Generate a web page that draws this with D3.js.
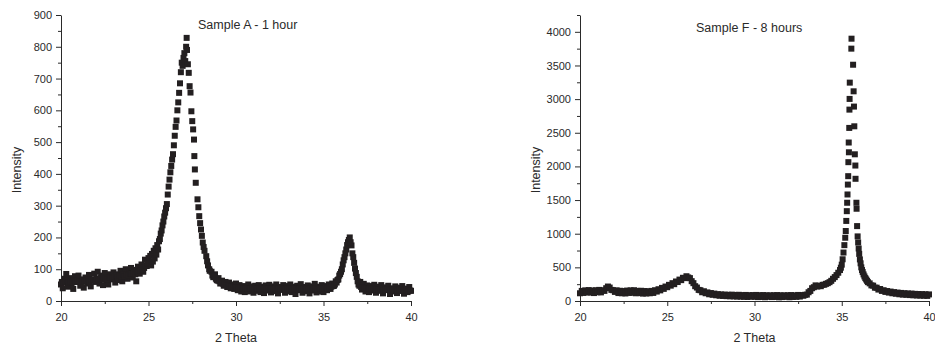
<!DOCTYPE html>
<html>
<head>
<meta charset="utf-8">
<script src="https://cdn.jsdelivr.net/npm/d3@7"></script>
<style>
  body { margin: 0; background: #fff; }
  svg text { font-family: Arial, "Liberation Sans", sans-serif; fill: #2a2a2a; }
</style>
</head>
<body>
<script>
// scan step of the flat parts (deg 2θ)
const step = 0.1;

// Sample A - 1 hour : 20.0 .. 25.0
const aLowStart = 20.0;
const aLow = [
  52, 40, 70, 85, 45, 72, 56, 38, 78, 60,      // 20.x
  80, 48, 68, 42, 74, 55, 82, 46, 66, 86,      // 21.x
  60, 92, 55, 80, 50, 88, 64, 52, 84, 68,      // 22.x
  90, 58, 84, 66, 95, 62, 88, 100, 70, 94,     // 23.x
  104, 74, 98, 62, 108, 86, 115, 92, 130, 110, // 24.x
  135                                          // 25.0
];
// the in-between readings 20.05 .. 24.95
const aLowBStart = 20.05;
const aLowB = [
  60, 58, 62, 64, 57, 61, 59, 63, 60, 65,      // 20.x5
  62, 60, 66, 61, 64, 67, 62, 65, 68, 66,      // 21.x5
  70, 67, 72, 69, 74, 71, 68, 73, 75, 72,      // 22.x5
  76, 79, 74, 80, 77, 82, 78, 84, 81, 86,      // 23.x5
  85, 88, 84, 92, 90, 96, 100, 104, 112, 118   // 24.x5
];
// main peak, read point by point
const aPeak = [
  [25.05, 118], [25.1, 142], [25.15, 112], [25.2, 148], [25.25, 124], [25.3, 158],
  [25.35, 134], [25.4, 166], [25.45, 146], [25.5, 176], [25.55, 162], [25.6, 188],
  [25.65, 195], [25.7, 212], [25.75, 222], [25.8, 238], [25.85, 250], [25.9, 266],
  [25.95, 278], [26.0, 292], [26.05, 305], [26.1, 335], [26.15, 360], [26.2, 382],
  [26.25, 405], [26.3, 425], [26.35, 445], [26.4, 462], [26.45, 490], [26.5, 520],
  [26.55, 548], [26.6, 568], [26.65, 600], [26.7, 625], [26.75, 655], [26.8, 685],
  [26.85, 720], [26.9, 750], [26.95, 740], [27.0, 765], [27.05, 780], [27.1, 755],
  [27.15, 800], [27.18, 828], [27.2, 790], [27.25, 745], [27.3, 718], [27.35, 676],
  [27.4, 656], [27.45, 597], [27.5, 566], [27.55, 540], [27.6, 508], [27.62, 456],
  [27.65, 414], [27.7, 372], [27.8, 320], [27.85, 295], [27.9, 267], [27.95, 245],
  [28.0, 225], [28.05, 205], [28.1, 184], [28.15, 170], [28.2, 158], [28.3, 141],
  [28.35, 125], [28.4, 112], [28.47, 100], [28.5, 95]
];
// 28.6 .. 40.0
const aHighStart = 28.6;
const aHigh = [
  92, 75, 84, 66,                                  // 28.6-28.9
  72, 55, 64, 48, 60, 44, 58, 40, 52, 38,          // 29.x
  55, 34, 50, 30, 47, 28, 44, 52, 30, 46,          // 30.x
  26, 48, 32, 50, 28, 45, 25, 49, 33, 51,          // 31.x
  27, 46, 31, 52, 24, 44, 35, 50, 26, 47,          // 32.x
  30, 52, 28, 45, 22, 48, 34, 53, 26, 44,          // 33.x
  31, 49, 24, 46, 33, 54, 27, 45, 30, 50,          // 34.x
  28, 47, 34, 52, 38, 55, 48, 62, 66, 80,          // 35.x
  92, 115, 138, 162, 185, 200, 175, 138, 102, 76,  // 36.x
  52, 60, 36, 54, 30, 49, 28, 47, 33, 51,          // 37.x
  26, 45, 32, 50, 24, 43, 36, 48, 22, 40,          // 38.x
  30, 46, 25, 42, 33, 47, 23, 39, 28, 44,          // 39.x
  32                                               // 40.0
];
// in-between readings 28.65 .. 39.95
const aHighBStart = 28.65;
const aHighB = [
  80, 76, 70, 64,                                  // 28.65-28.95
  62, 58, 55, 52, 50, 48, 46, 45, 44, 42,          // 29.x5
  42, 40, 41, 39, 40, 38, 40, 39, 38, 40,          // 30.x5
  37, 39, 38, 40, 37, 38, 39, 36, 38, 39,          // 31.x5
  38, 37, 39, 36, 38, 40, 37, 38, 36, 39,          // 32.x5
  37, 38, 36, 39, 38, 37, 39, 36, 38, 37,          // 33.x5
  38, 36, 39, 37, 38, 40, 37, 39, 38, 40,          // 34.x5
  39, 41, 40, 43, 45, 47, 52, 58, 68, 85,          // 35.x5
  100, 128, 150, 176, 192, 185, 150, 120, 88, 62,  // 36.x5
  48, 44, 42, 40, 39, 38, 40, 37, 38, 36,          // 37.x5
  37, 35, 36, 38, 34, 36, 35, 37, 33, 35,          // 38.x5
  34, 36, 33, 35, 32, 34, 33, 35, 31, 33           // 39.x5
];

// Sample F - 8 hours : 20.0 .. 34.0
const fLowStart = 20.0;
const fLow = [
  115, 150, 120, 158, 128, 162, 125, 155, 118, 160, // 20.x
  130, 165, 128, 160, 150, 190, 215, 200, 165, 160, // 21.x
  135, 158, 118, 152, 115, 148, 112, 155, 120, 158, // 22.x
  122, 160, 115, 150, 118, 152, 110, 148, 112, 145, // 23.x
  115, 150, 120, 160, 140, 175, 158, 195, 180, 215, // 24.x
  205, 240, 228, 265, 250, 290, 282, 318, 310, 345, // 25.x
  340, 368, 350, 340, 295, 265, 220, 200, 165, 160, // 26.x
  130, 145, 115, 128, 100, 118, 92, 110, 85, 102,   // 27.x
  78, 98, 75, 95, 72, 92, 70, 94, 68, 90,           // 28.x
  66, 92, 64, 88, 62, 90, 60, 86, 64, 88,           // 29.x
  62, 90, 58, 86, 60, 88, 56, 85, 62, 84,           // 30.x
  58, 86, 60, 88, 55, 85, 58, 84, 62, 86,           // 31.x
  56, 88, 60, 84, 62, 90, 66, 88, 78, 92,           // 32.x
  95, 130, 150, 190, 205, 232, 215, 225, 220, 240,  // 33.x
  242                                               // 34.0
];
const fPeak = [
  [34.1, 255], [34.2, 265], [34.3, 280], [34.4, 300], [34.5, 330], [34.6, 355],
  [34.7, 385], [34.8, 420], [34.9, 460], [34.95, 495], [35.0, 540], [35.05, 620],
  [35.1, 720], [35.15, 830], [35.2, 940],
  [35.23, 1040], [35.26, 1190], [35.29, 1335], [35.31, 1460], [35.33, 1583],
  [35.35, 1730], [35.37, 1855], [35.38, 2063], [35.41, 2210], [35.40, 2355],
  [35.43, 2572], [35.44, 2844], [35.45, 3003], [35.46, 3245], [35.55, 3750],
  [35.56, 3898],
  [35.65, 3511], [35.68, 3116], [35.70, 2889], [35.72, 2596], [35.75, 2180],
  [35.78, 2013], [35.79, 1816], [35.84, 1460], [35.85, 1371], [35.88, 1113],
  [35.91, 960], [35.94, 870], [35.97, 780], [36.0, 700], [36.04, 618],
  [36.08, 560], [36.12, 500], [36.16, 460], [36.2, 430], [36.25, 395],
  [36.3, 365], [36.35, 340], [36.4, 320], [36.45, 300], [36.5, 280]
];
// 36.6 .. 40.0
const fHighStart = 36.6;
const fHigh = [
  262, 232, 228, 198,                               // 36.6-36.9
  198, 170, 178, 150, 160, 135, 148, 125, 140, 115, // 37.x
  132, 108, 125, 100, 120, 95, 116, 92, 112, 88,    // 38.x
  110, 85, 106, 82, 104, 80, 102, 78, 100, 76,      // 39.x
  98                                                // 40.0
];

const xMajor = [20, 25, 30, 35, 40];
const xMinor = [22.5, 27.5, 32.5, 37.5];
const aYMajor = [0, 100, 200, 300, 400, 500, 600, 700, 800, 900];
const aYMinor = [50, 150, 250, 350, 450, 550, 650, 750, 850];
const fYMajor = [0, 500, 1000, 1500, 2000, 2500, 3000, 3500, 4000];
const fYMinor = [250, 750, 1250, 1750, 2250, 2750, 3250, 3750, 4250];

function fromStep(start, values) {
  return values.map((v, i) => [+(start + i * step).toFixed(2), v]);
}

let sampleA = fromStep(aLowStart, aLow).concat(
  fromStep(aLowBStart, aLowB), aPeak,
  fromStep(aHighStart, aHigh), fromStep(aHighBStart, aHighB));
let sampleF = fromStep(fLowStart, fLow).concat(fPeak, fromStep(fHighStart, fHigh));

let svg = d3.select("body")
  .append("svg")
  .attr("width", 935)
  .attr("height", 350);

function drawPanel(p) {
  let x = d3.scaleLinear().domain([20, 40]).range([p.left, p.right]);
  let y = d3.scaleLinear().domain([0, p.yMax]).range([301, 15]);
  let g = svg.append("g");

  // x axis
  g.append("g")
    .attr("transform", "translate(0,301)")
    .call(d3.axisBottom(x).tickValues(xMinor).tickSize(3).tickFormat(""))
    .call(a => a.select(".domain").remove());
  g.append("g")
    .attr("transform", "translate(0,301)")
    .call(d3.axisBottom(x).tickValues(xMajor).tickSize(5).tickSizeOuter(0).tickPadding(7));

  // y axis
  g.append("g")
    .attr("transform", `translate(${p.left},0)`)
    .call(d3.axisLeft(y).tickValues(p.yMinor).tickSize(3).tickFormat(""))
    .call(a => a.select(".domain").remove());
  g.append("g")
    .attr("transform", `translate(${p.left},0)`)
    .call(d3.axisLeft(y).tickValues(p.yMajor).tickSize(5).tickSizeOuter(0)
      .tickPadding(4).tickFormat(d3.format("d")));

  g.selectAll(".domain, .tick line").attr("stroke", "#2a2a2a");
  g.selectAll(".tick text").attr("font-size", 11).attr("font-family", null).attr("fill", "#2a2a2a");

  // points
  g.append("g")
    .selectAll("rect")
    .data(p.data)
    .enter()
    .append("rect")
    .attr("x", d => x(d[0]) - 3)
    .attr("y", d => y(d[1]) - 3)
    .attr("width", 6)
    .attr("height", 6)
    .attr("fill", "#231f20");

  // labels
  g.append("text")
    .attr("x", p.titleX)
    .attr("y", p.titleY)
    .attr("font-size", 12.5)
    .text(p.title);
  g.append("text")
    .attr("x", (p.left + p.right) / 2)
    .attr("y", 342)
    .attr("text-anchor", "middle")
    .attr("font-size", 12.5)
    .text("2 Theta");
  g.append("text")
    .attr("transform", `translate(${p.left - 40},170) rotate(-90)`)
    .attr("text-anchor", "middle")
    .attr("font-size", 12.5)
    .text("Intensity");
}

drawPanel({
  left: 61, right: 411, yMax: 900,
  yMajor: aYMajor, yMinor: aYMinor,
  data: sampleA,
  title: "Sample A - 1 hour", titleX: 198, titleY: 29
});

drawPanel({
  left: 580, right: 929, yMax: 4250,
  yMajor: fYMajor, yMinor: fYMinor,
  data: sampleF,
  title: "Sample F - 8 hours", titleX: 696, titleY: 32
});
</script>
</body>
</html>
